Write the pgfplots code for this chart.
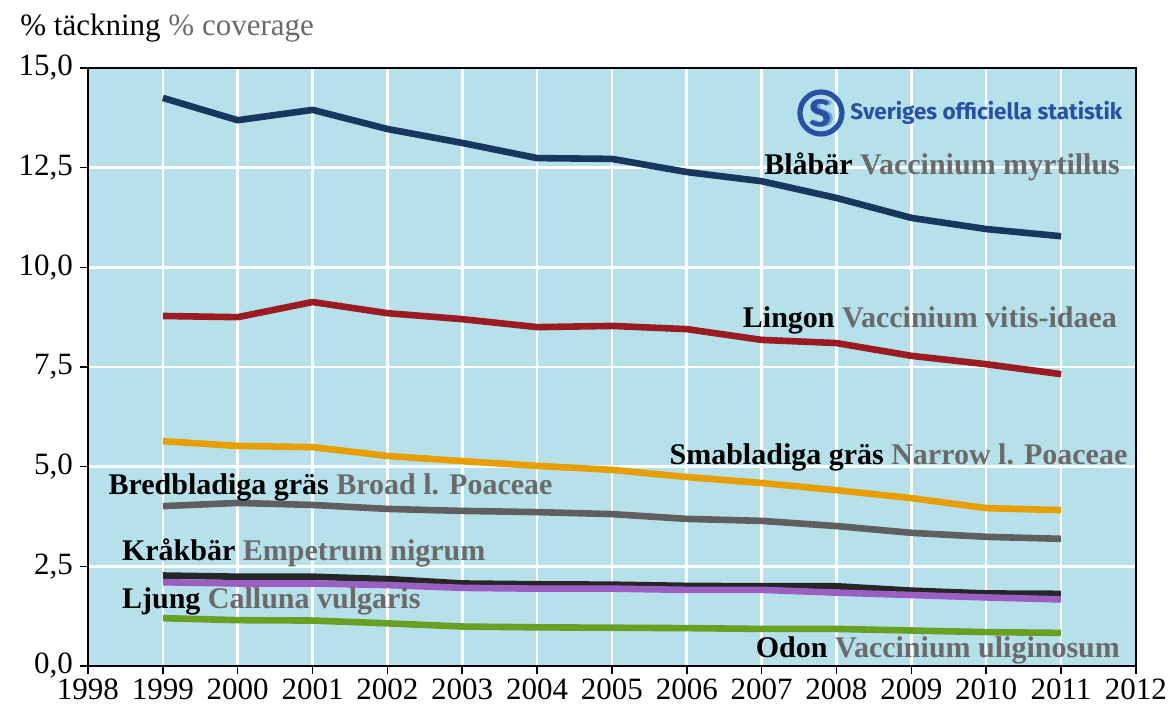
\documentclass[border=0pt]{standalone}
\usepackage{fontspec}
\setmainfont{Liberation Serif}
\newfontfamily\logofont{Fira Sans}
\usepackage{graphicx}
\usepackage{pgfplots}
\pgfplotsset{compat=1.18}
\definecolor{bgblue}{HTML}{B7E1EA}
\definecolor{cblue}{HTML}{17375E}
\definecolor{cred}{HTML}{9B1B22}
\definecolor{corange}{HTML}{E79E00}
\definecolor{cgray}{HTML}{5F5F5F}
\definecolor{cblack}{HTML}{262626}
\definecolor{cpurple}{HTML}{9B5FC4}
\definecolor{cgreen}{HTML}{67A023}
\definecolor{lgray}{HTML}{6A6A6A}
\definecolor{logoblue}{HTML}{2A4FA3}
\definecolor{logolight}{HTML}{6FA8DC}
\begin{document}
\begin{tikzpicture}
\useasboundingbox (-44pt,-23.5pt) rectangle (540pt,333pt);
\begin{axis}[
  at={(0,0)}, anchor=origin,
  scale only axis, width=524pt, height=299pt,
  xmin=1998, xmax=2012, ymin=0, ymax=15,
  xtick={1998,1999,...,2012}, ytick={0,2.5,5,7.5,10,12.5,15},
  axis background/.style={fill=bgblue},
  grid=major, major grid style={white, line width=1.3pt},
  axis line style={black, line width=1pt},
  tick style={black, line width=0.8pt}, tick align=outside,
  major tick length=4pt,
  xtick pos=left, ytick pos=left,
  /pgf/number format/assume math mode=true,
  ticklabel style={font=\fontsize{15.5}{17}\selectfont},
  x tick label style={/pgf/number format/1000 sep={}, yshift=1pt},
  y tick label style={/pgf/number format/.cd, use comma, fixed, fixed zerofill, precision=1},
  every axis plot/.append style={line width=3.3pt, line join=round},
  clip=false,
]
\addplot[cblue] coordinates {(1999,14.25)(2000,13.69)(2001,13.95)(2002,13.47)(2003,13.12)(2004,12.74)(2005,12.72)(2006,12.39)(2007,12.16)(2008,11.74)(2009,11.24)(2010,10.96)(2011,10.78)};
\addplot[cred] coordinates {(1999,8.78)(2000,8.75)(2001,9.13)(2002,8.85)(2003,8.70)(2004,8.50)(2005,8.53)(2006,8.45)(2007,8.18)(2008,8.10)(2009,7.78)(2010,7.57)(2011,7.32)};
\addplot[corange] coordinates {(1999,5.64)(2000,5.52)(2001,5.49)(2002,5.27)(2003,5.14)(2004,5.02)(2005,4.92)(2006,4.74)(2007,4.59)(2008,4.41)(2009,4.21)(2010,3.96)(2011,3.91)};
\addplot[cgray] coordinates {(1999,4.01)(2000,4.09)(2001,4.04)(2002,3.94)(2003,3.89)(2004,3.86)(2005,3.81)(2006,3.69)(2007,3.64)(2008,3.51)(2009,3.34)(2010,3.24)(2011,3.19)};
\addplot[cblack] coordinates {(1999,2.27)(2000,2.24)(2001,2.24)(2002,2.18)(2003,2.07)(2004,2.05)(2005,2.04)(2006,2.01)(2007,2.00)(2008,2.00)(2009,1.89)(2010,1.82)(2011,1.81)};
\addplot[cpurple] coordinates {(1999,2.10)(2000,2.07)(2001,2.07)(2002,2.03)(2003,1.96)(2004,1.94)(2005,1.94)(2006,1.91)(2007,1.91)(2008,1.84)(2009,1.78)(2010,1.72)(2011,1.67)};
\addplot[cgreen] coordinates {(1999,1.20)(2000,1.15)(2001,1.14)(2002,1.07)(2003,0.99)(2004,0.97)(2005,0.96)(2006,0.95)(2007,0.93)(2008,0.93)(2009,0.89)(2010,0.85)(2011,0.83)};
\begin{scope}[every node/.style={font=\fontsize{15}{17}\selectfont\bfseries, inner sep=0pt}]
\node[anchor=east] at (axis cs:2011.79,12.52) {Blåbär \textcolor{lgray}{Vaccinium myrtillus}};
\node[anchor=east] at (axis cs:2011.75,8.68) {Lingon \textcolor{lgray}{Vaccinium vitis-idaea}};
\node[anchor=east] at (axis cs:2011.89,5.24) {Smabladiga gräs \textcolor{lgray}{Narrow l. Poaceae}};
\node[anchor=west] at (axis cs:1998.27,4.49) {Bredbladiga gräs \textcolor{lgray}{Broad l. Poaceae}};
\node[anchor=west] at (axis cs:1998.45,2.83) {Kråkbär \textcolor{lgray}{Empetrum nigrum}};
\node[anchor=west] at (axis cs:1998.45,1.63) {Ljung \textcolor{lgray}{Calluna vulgaris}};
\node[anchor=east] at (axis cs:2011.79,0.40) {Odon \textcolor{lgray}{Vaccinium uliginosum}};
\end{scope}
% logo
\draw[logoblue, line width=2.6pt] (axis cs:1998+733/74.86,15-45/39.87) circle (10.5pt);
\node[font=\logofont\bfseries\fontsize{19}{19}\selectfont, text=logolight, inner sep=0pt] at (axis cs:1998+735/74.86,15-45/39.87) {S};
\node[font=\logofont\bfseries\fontsize{19}{19}\selectfont, text=logoblue, inner sep=0pt] at (axis cs:1998+732/74.86,15-45/39.87) {S};
\node[anchor=west, inner sep=0pt, text=logoblue] at (axis cs:1998+762/74.86,15-45/39.87) {\resizebox{136pt}{!}{\logofont\bfseries\fontsize{14}{14}\selectfont Sveriges officiella statistik}};
\end{axis}
\node[anchor=west, inner sep=0pt, font=\fontsize{15.5}{17}\selectfont] at (-34pt,319pt) {\% täckning \textcolor{lgray}{\% coverage}};
\end{tikzpicture}
\end{document}
